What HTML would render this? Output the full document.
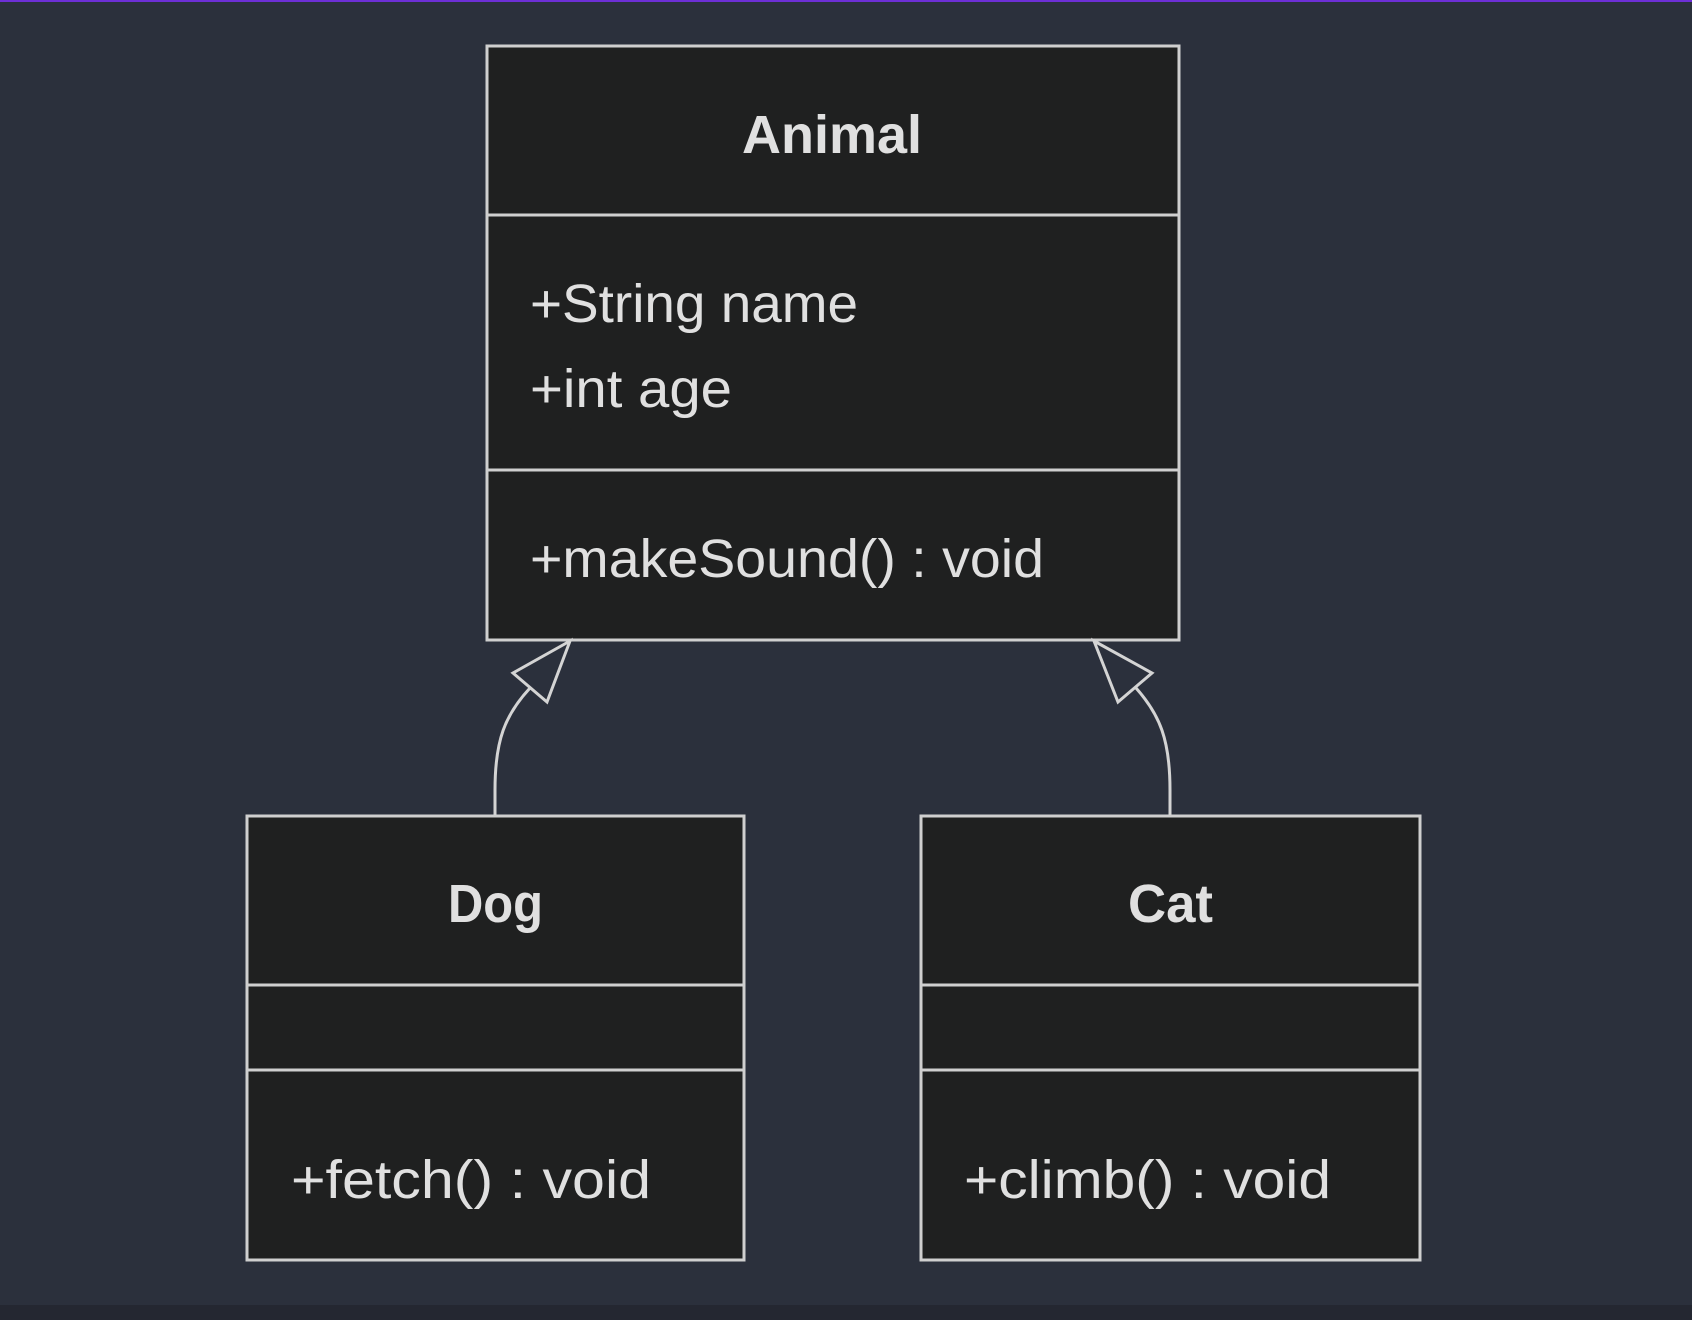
<!DOCTYPE html>
<html><head><meta charset="utf-8"><style>
html,body{margin:0;padding:0;background:#2b303c;}
svg{display:block}
</style></head><body>
<svg width="1692" height="1320" xmlns="http://www.w3.org/2000/svg" font-family="'Liberation Sans', sans-serif">
<rect x="0" y="0" width="1692" height="1320" fill="#2b303c"/>
<rect x="0" y="1305" width="1692" height="15" fill="#242731"/>
<rect x="0" y="0" width="1692" height="2" fill="#6d2fd6"/>
<g stroke="#cfcfcf" stroke-width="3" fill="#1f2020">
<rect x="487" y="46" width="692" height="594"/>
<line x1="487" y1="215" x2="1179" y2="215"/>
<line x1="487" y1="470" x2="1179" y2="470"/>
<rect x="247" y="816" width="497" height="444"/>
<line x1="247" y1="985" x2="744" y2="985"/>
<line x1="247" y1="1070" x2="744" y2="1070"/>
<rect x="921" y="816" width="499" height="444"/>
<line x1="921" y1="985" x2="1420" y2="985"/>
<line x1="921" y1="1070" x2="1420" y2="1070"/>
</g>
<g stroke="#d4d4d4" stroke-width="3" fill="none">
<path d="M495 815 L495 790 C495 740 505 715 530 688"/>
<polygon points="570,641 513,673 547,702" fill="#2b303c"/>
<path d="M1170 815 L1170 790 C1170 740 1160 715 1136 688"/>
<polygon points="1094,641 1152,673 1118,702" fill="#2b303c"/>
</g>
<g fill="#e0e0e0">
<text x="742" y="153" font-size="54" font-weight="bold" textLength="180" lengthAdjust="spacingAndGlyphs">Animal</text>
<text x="530" y="322" font-size="54" textLength="328" lengthAdjust="spacingAndGlyphs">+String name</text>
<text x="530" y="407" font-size="54" textLength="202" lengthAdjust="spacingAndGlyphs">+int age</text>
<text x="530" y="577" font-size="54" textLength="514" lengthAdjust="spacingAndGlyphs">+makeSound() : void</text>
<text x="448" y="922" font-size="54" font-weight="bold" textLength="95" lengthAdjust="spacingAndGlyphs">Dog</text>
<text x="291" y="1198" font-size="54" textLength="360" lengthAdjust="spacingAndGlyphs">+fetch() : void</text>
<text x="1128" y="922" font-size="54" font-weight="bold" textLength="85" lengthAdjust="spacingAndGlyphs">Cat</text>
<text x="964" y="1198" font-size="54" textLength="367" lengthAdjust="spacingAndGlyphs">+climb() : void</text>
</g>
</svg>
</body></html>
